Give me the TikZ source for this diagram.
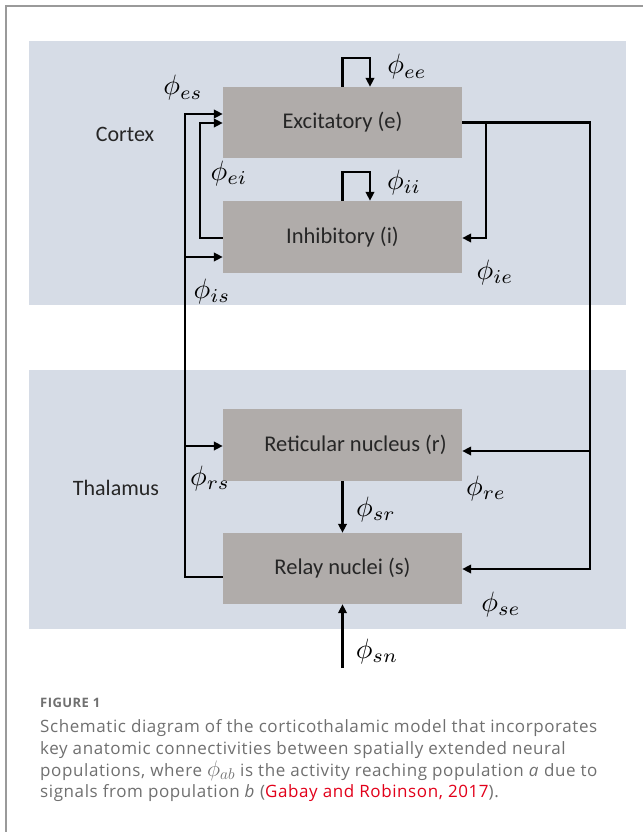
\documentclass[tikz,border=0pt]{standalone}
\usepackage{graphicx}
\usepackage{fontspec}
\newfontfamily\boxfont{Carlito}
\newfontfamily\capfont[LetterSpace=3.5]{Open Sans}
\usetikzlibrary{arrows.meta,calc}
\definecolor{panel}{HTML}{D6DCE6}
\definecolor{boxgray}{HTML}{B0ACAA}
\definecolor{capgray}{HTML}{707070}
\definecolor{capred}{HTML}{E2001A}
\definecolor{framegray}{HTML}{9A9A9A}
\newcommand\phl[1]{\scalebox{2.8}{$\phi_{#1}$}}
\begin{document}
\begin{tikzpicture}[x=1pt,y=-1pt,
  pop/.style={fill=boxgray, draw=none, minimum width=239pt, minimum height=71pt, inner sep=0pt,
    font=\boxfont\fontsize{22.5}{24}\selectfont, text=black!85},
  tag/.style={font=\boxfont\fontsize{22}{24}\selectfont, text=black!85, inner sep=0pt},
  conn/.style={line width=2.3pt, -{Triangle[length=9pt,width=8.5pt]}},
  lab/.style={inner sep=0pt},
  capline/.style={font=\capfont\fontsize{17}{20}\selectfont, text=capgray, anchor=base west, inner sep=0pt}]

\useasboundingbox (0,0) rectangle (643,832);
\fill[white] (0,0) rectangle (643,832);
\draw[framegray, line width=2pt] (6,832) -- (6,6) -- (643,6);

% panels
\fill[panel] (29,41) rectangle (626,305);
\fill[panel] (29,370) rectangle (626,629);

\node[tag] (cortex) at (125,134) {Cortex};
\node[tag] (thalamus) at (116,488) {Thalamus};

% populations
\node[pop] (e) at (342.5,122.5) {Excitatory (e)};
\node[pop, minimum height=72pt] (i) at (342.5,237) {Inhibitory (i)};
\node[pop, minimum height=72pt] (r) at (342.5,445) {\hspace*{26pt}Reticular nucleus (r)};
\node[pop] (s) at (342.5,568.5) {Relay nuclei (s)};

% coordinates
\coordinate (bS) at (185,577);
\coordinate (bE) at (185,114);
\coordinate (bI) at (185,257);
\coordinate (bR) at (185,446);
\coordinate (eiL) at (200,238);
\coordinate (eiT) at (200,123);
\coordinate (ieX) at (486,238);
\coordinate (seX) at (590,569);
\coordinate (reX) at (590,451);
\coordinate (eeT) at (370,58);
\coordinate (iiT) at (370,172);
\coordinate (snB) at (342.5,668);

% left bus from relay nuclei
\draw[conn] (s.west |- bS) -- (bS) -- (bE) -- (e.west |- bE);
\draw[conn] (bI) -- (i.west |- bI);
\draw[conn] (bR) -- (r.west |- bR);

% phi_ei
\draw[conn] (i.west |- eiL) -- (eiL) -- (eiT) -- (e.west |- eiT);

% excitatory output
\draw[conn] (e.east) -| (seX) -- (s.east |- seX);
\draw[conn] (ieX |- e.east) -- (ieX) -- (i.east |- ieX);
\draw[conn] (reX) -- (r.east |- reX);

% self loops
\draw[conn] (e.north) |- (eeT) -- (eeT |- e.north);
\draw[conn] (i.north) |- (iiT) -- (iiT |- i.north);

% thalamic
\draw[conn] (r.south) -- (s.north);
\draw[conn] (snB) -- (s.south);

% labels
\node[lab] (lee) at (407,67) {\phl{ee}};
\node[lab] (lii) at (404,182) {\phl{ii}};
\node[lab] (les) at (183,88) {\phl{es}};
\node[lab] (lei) at (229,173) {\phl{ei}};
\node[lab] (lis) at (212,291) {\phl{is}};
\node[lab] (lie) at (495,272) {\phl{ie}};
\node[lab] (lrs) at (210,478) {\phl{rs}};
\node[lab] (lre) at (486,488) {\phl{re}};
\node[lab] (lsr) at (376,509) {\phl{sr}};
\node[lab] (lse) at (501,604) {\phl{se}};
\node[lab] (lsn) at (377,651) {\phl{sn}};

% caption
\node[capline, font=\capfont\bfseries\fontsize{13}{14}\selectfont] (fig) at (40,707) {FIGURE 1};
\node[capline] (c1) at (40,732) {Schematic diagram of the corticothalamic model that incorporates};
\node[capline] (c2) at (40,754) {key anatomic connectivities between spatially extended neural};
\node[capline] (c3) at (40,776) {populations, where \scalebox{1.3}{$\phi_{ab}$} is the activity reaching population \textit{a} due to};
\node[capline] (c4) at (40,797) {signals from population \textit{b} (\textcolor{capred}{Gabay and Robinson, 2017}).};
\end{tikzpicture}
\end{document}
